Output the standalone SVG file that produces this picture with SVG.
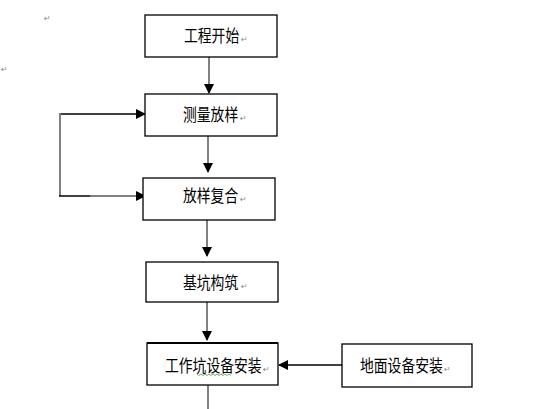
<svg xmlns="http://www.w3.org/2000/svg" width="546" height="409" viewBox="0 0 546 409">
<defs>
<style>
.box{fill:#fff;stroke:#000;stroke-width:1.3}
.lbl{font-family:"Noto Sans CJK SC","Noto Sans",sans-serif;font-size:13.8px;fill:#000}
.rm{font-family:"DejaVu Sans",sans-serif;font-size:8px;fill:#888}
.cg{stroke:#808080;stroke-width:2;fill:none}
.cb{stroke:#000;stroke-width:1.5;fill:none}
</style>
<marker id="ah" markerWidth="10" markerHeight="10" refX="9" refY="5" orient="auto" markerUnits="userSpaceOnUse">
<path d="M0,0 L10,5 L0,10 Z" fill="#000"/>
</marker>
</defs>
<rect width="546" height="409" fill="#fff"/>
<text class="rm" x="44" y="21">↵</text>
<text class="rm" x="1" y="72">↵</text>
<g id="connectors">
<line class="cg" x1="209" y1="57" x2="209" y2="93" marker-end="url(#ah)"/>
<line class="cg" x1="208" y1="136" x2="208" y2="172" marker-end="url(#ah)"/>
<line class="cb" x1="60" y1="114" x2="145" y2="114" marker-end="url(#ah)"/>
<line class="cg" x1="60" y1="113" x2="60" y2="196"/>
<line class="cb" x1="59" y1="196" x2="90" y2="196"/>
<line class="cg" x1="90" y1="196" x2="145" y2="196" marker-end="url(#ah)"/>
<line class="cg" x1="207" y1="220" x2="207" y2="256" marker-end="url(#ah)"/>
<line class="cg" x1="207" y1="302" x2="207" y2="340" marker-end="url(#ah)"/>
<line class="cg" x1="208" y1="385" x2="208" y2="409"/>
<line class="cb" x1="342" y1="365" x2="279" y2="365" marker-end="url(#ah)" stroke-width="1"/>
</g>
<g id="n1">
<rect class="box" x="145" y="15" width="132" height="42"/>
<text class="lbl" transform="translate(184,42) scale(1,1.2)">工程开始</text>
<text class="rm" x="241" y="42">↵</text>
</g>
<g id="n2">
<rect class="box" x="145" y="94" width="132" height="42"/>
<text class="lbl" transform="translate(183,121) scale(1,1.2)">测量放样</text>
<text class="rm" x="240" y="121">↵</text>
</g>
<g id="n3">
<rect class="box" x="143" y="178" width="132" height="42"/>
<text class="lbl" transform="translate(183,202) scale(1,1.2)">放样复合</text>
<text class="rm" x="240" y="202">↵</text>
</g>
<g id="n4">
<rect class="box" x="146" y="262" width="132" height="40"/>
<text class="lbl" transform="translate(183,289) scale(1,1.2)">基坑构筑</text>
<text class="rm" x="241" y="289">↵</text>
</g>
<g id="n5">
<rect class="box" x="147" y="343" width="131" height="42"/>
<line x1="147" y1="343" x2="278" y2="343" stroke="#000" stroke-width="2"/>
<text class="lbl" transform="translate(165,372) scale(1,1.2)">工作坑设备安装</text>
<text class="rm" x="263" y="372">↵</text>
<path d="M197,374 l2,1.5 l2,-1.5 l2,1.5 l2,-1.5 l2,1.5 l2,-1.5 l2,1.5 l2,-1.5 l2,1.5 l2,-1.5 l2,1.5 l2,-1.5 l2,1.5 l2,-1.5 l2,1.5 l2,-1.5 l2,1.5" stroke="#4a9a4a" stroke-width="0.8" fill="none"/>
</g>
<g id="n6">
<rect class="box" x="342" y="344" width="130" height="43"/>
<text class="lbl" transform="translate(360,372) scale(1,1.2)">地面设备安装</text>
<text class="rm" x="444" y="372">↵</text>
</g>
</svg>
